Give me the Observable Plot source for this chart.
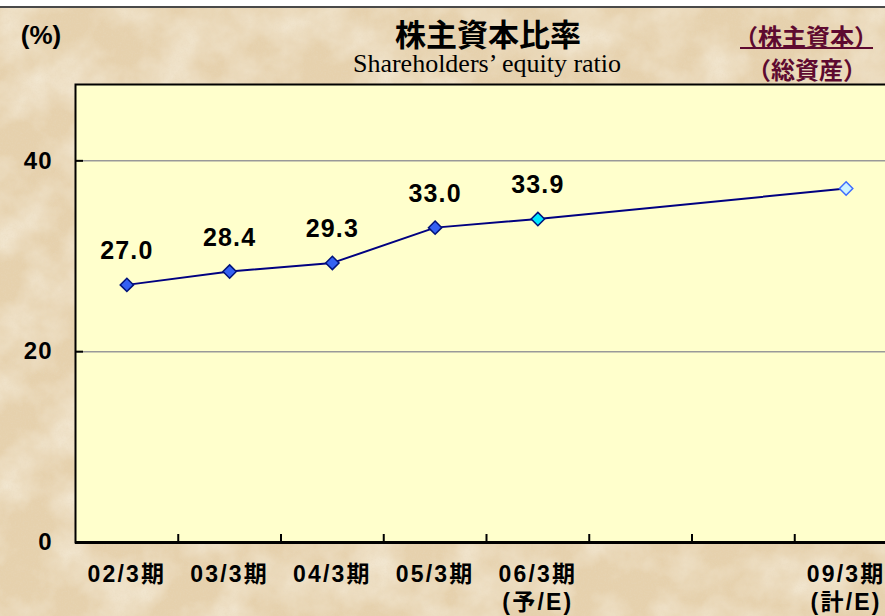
<!DOCTYPE html>
<html><head><meta charset="utf-8">
<script src="https://cdn.jsdelivr.net/npm/d3@7"></script>
<script src="https://cdn.jsdelivr.net/npm/@observablehq/plot@0.6"></script>
<style>
html,body{margin:0;padding:0;width:885px;height:616px;overflow:hidden;background:#fff;}
#page{position:relative;width:885px;height:616px;overflow:hidden;background:#fff;}
#bg{position:absolute;left:0;top:8px;}
#topline{position:absolute;left:0;top:6px;width:885px;height:2px;background:#4a4a4a;}
.hdr{position:absolute;white-space:nowrap;transform:translate(-50%,-50%);line-height:1;}
#unit{left:41px;top:35px;font:bold 26px "Liberation Sans",Arial,sans-serif;color:#000;}
#title{left:488px;top:32px;font:bold 31px "Noto Sans CJK JP",sans-serif;color:#000;}
#subtitle{left:487px;top:64px;font:26px "Liberation Serif","DejaVu Serif",serif;color:#000;}
#formula1{left:806px;top:35px;font:bold 24px "Noto Sans CJK JP",sans-serif;color:#5e0a30;}
#formula2{left:807px;top:68px;font:bold 24px "Noto Sans CJK JP",sans-serif;color:#5e0a30;}
#fline{position:absolute;left:740px;top:47px;width:133px;height:2px;background:#5e0a30;}
#chart{position:absolute;left:0;top:74px;}
#chart svg{max-width:none;}
</style></head>
<body>
<div id="page">
<svg id="bg" width="885" height="608">
  <filter id="tex" x="0" y="0" width="100%" height="100%">
    <feTurbulence type="fractalNoise" baseFrequency="0.02" numOctaves="5" seed="11" result="noise"/>
    <feColorMatrix in="noise" type="matrix" values="0 0 0 0 0.96  0 0 0 0 0.92  0 0 0 0 0.82  1.2 0 0 0 -0.45"/>
  </filter>
  <filter id="tex2" x="0" y="0" width="100%" height="100%">
    <feTurbulence type="fractalNoise" baseFrequency="0.6" numOctaves="2" seed="3" result="n2"/>
    <feColorMatrix in="n2" type="matrix" values="0 0 0 0 0.80  0 0 0 0 0.69  0 0 0 0 0.52  1.4 0 0 0 -0.6"/>
  </filter>
  <rect width="885" height="608" fill="#e6d1ad"/>
  <rect width="885" height="608" filter="url(#tex)"/>
  <rect width="885" height="608" filter="url(#tex2)" opacity="0.5"/>
</svg>
<div id="topline"></div>
<div class="hdr" id="unit">(%)</div>
<div class="hdr" id="title">株主資本比率</div>
<div class="hdr" id="subtitle">Shareholders’ equity ratio</div>
<div class="hdr" id="formula1">（株主資本）</div>
<div id="fline"></div>
<div class="hdr" id="formula2">（総資産）</div>
<div id="chart"></div>
</div>
<script>
const categories = ["02/3期","03/3期","04/3期","05/3期","06/3期","07/3期","08/3期","09/3期"];
const tickLabels = ["02/3期","03/3期","04/3期","05/3期","06/3期","","","09/3期"];
const subLabels  = ["","","","","(予/E)","","","(計/E)"];
const ratio      = [27.0, 28.4, 29.3, 33.0, 33.9, null, null, 37.1];
const valueLabels= ["27.0","28.4","29.3","33.0","33.9","","",""];
const kinds      = ["actual","actual","actual","actual","forecast",null,null,"plan"];
const yTicks = [0, 20, 40];
const yMax = 48;

const fillOf = {actual:"#3461f2", forecast:"#00e8ff", plan:"#cdf3ff"};
const strokeOf = {actual:"#00127a", forecast:"#00127a", plan:"#3d6cff"};

const rows = categories.map((c,i)=>({i, c, tick:tickLabels[i], sub:subLabels[i], v:ratio[i], label:valueLabels[i], kind:kinds[i]}));
const pts = rows.filter(d=>d.v!=null);
const xDomain = [-0.5, categories.length - 0.5];
const bounds = categories.slice(1).map((_,i)=>i+0.5);

const sans = '"Liberation Sans",Arial,"Noto Sans CJK JP",sans-serif';

const chart = Plot.plot({
  width: 900, height: 542,
  marginTop: 10, marginBottom: 74, marginLeft: 75, marginRight: 3,
  style: {background:"transparent", fontFamily: sans, color:"#000", overflow:"visible", maxWidth:"none"},
  x: {domain: xDomain, axis: null},
  y: {domain: [0, yMax], axis: null},
  marks: [
    Plot.frame({fill:"#ffffcc", stroke:null}),
    Plot.gridY(yTicks.filter(v=>v>0), {stroke:"#999", strokeOpacity:1, strokeWidth:1.5}),
    Plot.axisX(bounds, {tickSize:-8, tickFormat:()=>"", label:null, strokeWidth:2, stroke:"#000"}),
    Plot.axisY(yTicks, {tickSize:-8, tickFormat:()=>"", label:null, strokeWidth:2, stroke:"#000"}),
    Plot.axisY(yTicks, {tickSize:0, tickPadding:23, label:null, fontSize:24, fontWeight:"bold", fontFamily:sans}),
    Plot.frame({stroke:"#000", strokeWidth:2}),
    Plot.ruleY([0], {stroke:"#000", strokeWidth:3}),
    Plot.line(pts, {x:"i", y:"v", stroke:"#000080", strokeWidth:2}),
    Plot.dot(pts, {x:"i", y:"v", symbol:"diamond2", r:6, fill:d=>fillOf[d.kind], stroke:d=>strokeOf[d.kind], strokeWidth:1.5}),
    Plot.text(pts, {x:"i", y:"v", text:"label", dy:-34, fontSize:25, fontWeight:"bold", fontFamily:sans, fill:"#000"}),
    Plot.text(rows, {x:"i", text:"tick", frameAnchor:"bottom", dy:39, fontSize:23, fontWeight:"bold", fontFamily:sans, fill:"#000"}),
    Plot.text(rows, {x:"i", text:"sub", frameAnchor:"bottom", dy:67, fontSize:23, fontWeight:"bold", fontFamily:sans, fill:"#000"})
  ]
});
// letter spacing like the reference's spaced-out digits
d3.select(chart).selectAll("text").each(function() {
  const t = this.textContent;
  let ls = null;
  if (valueLabels.includes(t) && t) ls = "1.2px";
  else if ((tickLabels.includes(t) || subLabels.includes(t)) && t) ls = "2.2px";
  else if (yTicks.map(String).includes(t)) ls = "1px";
  if (ls) this.setAttribute("letter-spacing", ls), this.style.letterSpacing = ls;
});
document.getElementById("chart").appendChild(chart);
</script>
</body></html>
